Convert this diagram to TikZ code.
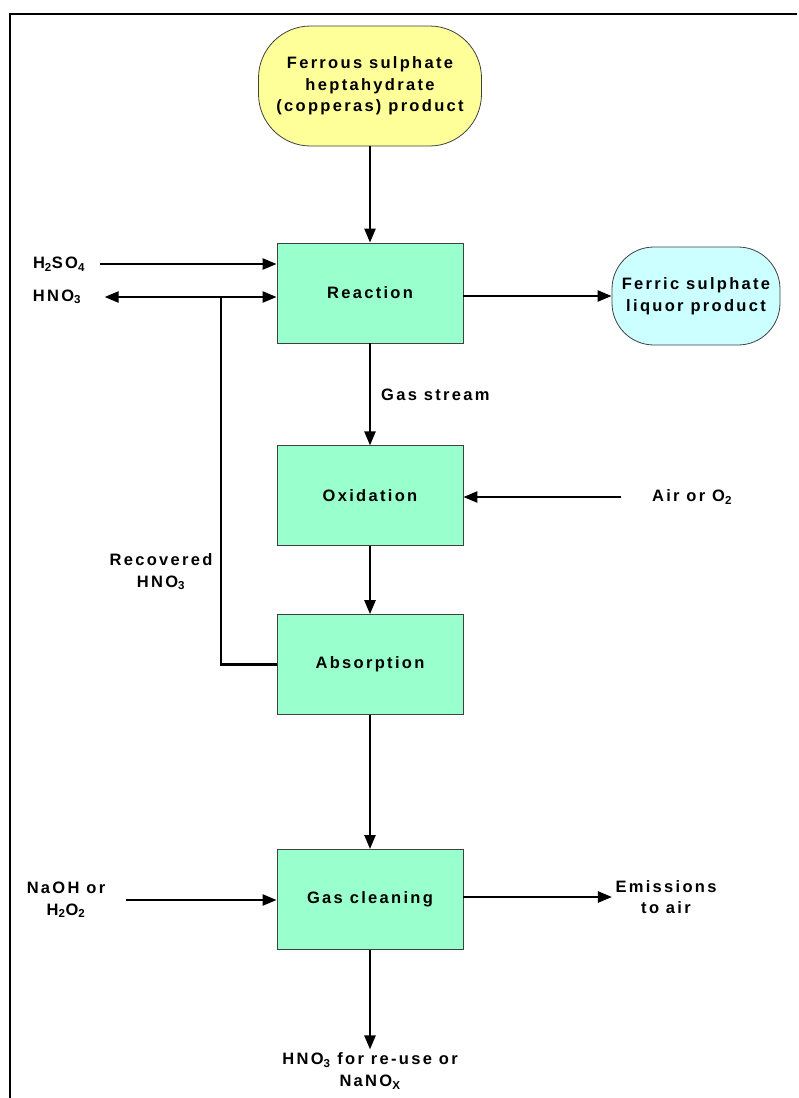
\documentclass[tikz,border=0pt]{standalone}
\usepackage{fontspec}
\setmainfont{Liberation Sans}[LetterSpace=14]
\usetikzlibrary{arrows.meta,positioning}
\definecolor{procfill}{HTML}{99FFCC}
\definecolor{feedfill}{HTML}{FFFF99}
\definecolor{prodfill}{HTML}{CCFFFF}
\newcommand{\chem}[1]{\textsubscript{#1}}

\begin{document}
\begin{tikzpicture}[
  x=1pt,y=-1pt,
  font=\fontsize{16.5}{21.5}\selectfont\bfseries,
  proc/.style={draw=black!75,fill=procfill,line width=0.8pt,
               minimum width=186pt,minimum height=100pt},
  prod/.style={draw=black!75,line width=0.8pt,align=center},
  lbl/.style={align=center},
  flow/.style={line width=2.4pt,-{Triangle[length=14pt,width=11pt]}},
  pipe/.style={line width=2.4pt},
  frame/.style={line width=2.5pt}]
\useasboundingbox (0,0) rectangle (799,1098);
\draw[frame] (797,14) -- (10,14) -- (10,1098);
% main train
\node[prod,fill=feedfill,minimum width=223pt,minimum height=120pt,
      rounded corners=52pt] (feed) at (370,86)
      {Ferrous sulphate\\heptahydrate\\(copperas) product};
\node[proc] (react) at (370,293) {Reaction};
\node[proc,below=102pt of react] (oxid) {Oxidation};
\node[proc,below=68pt of oxid] (absorb) {Absorption};
\node[proc,below=134pt of absorb] (clean) {Gas cleaning};
\node[prod,fill=prodfill,minimum width=168pt,minimum height=98pt,
      rounded corners=42pt] (ferric) at (696,296)
      {Ferric sulphate\\liquor product};
% side streams
\node[lbl] (h2so4) at (59,264) {H\chem{2}SO\chem{4}};
\node[lbl] (hno3) at (57,297) {HNO\chem{3}};
\coordinate (rec) at (221,297);
\node[lbl,anchor=east] (recov) at (216,572) {Recovered\\HNO\chem{3}};
\node[lbl] (air) at (692,497) {Air or O\chem{2}};
\node[lbl] (naoh) at (66,900) {NaOH or\\H\chem{2}O\chem{2}};
\node[lbl] (emis) at (666,897) {Emissions\\to air};
\node[lbl] (reuse) at (370,1071) {HNO\chem{3} for re-use or\\NaNO\chem{X}};
% connectors
\draw[flow] (feed) -- (react);
\draw[flow,shorten <=12pt] (h2so4.east) -- (h2so4.east -| react.west);
\draw[flow] (rec) -- (rec -| react.west);
\draw[flow,shorten >=20pt] (rec) -- (hno3.east);
\draw[pipe] (absorb.west) -| (rec);
\draw[flow] (react.east |- ferric.west) -- (ferric.west);
\draw[flow] (react) -- node[right,inner sep=10pt] (gas) {Gas stream} (oxid);
\draw[flow,shorten <=28pt] (air.west) -- (air.west -| oxid.east);
\draw[flow] (oxid) -- (absorb);
\draw[flow] (absorb) -- (clean);
\draw[flow,shorten <=17pt] (naoh.east) -- (naoh.east -| clean.west);
\draw[flow] (clean.east |- emis.west) -- (emis.west);
\draw[flow] (clean) -- (reuse);
\end{tikzpicture}
\end{document}
